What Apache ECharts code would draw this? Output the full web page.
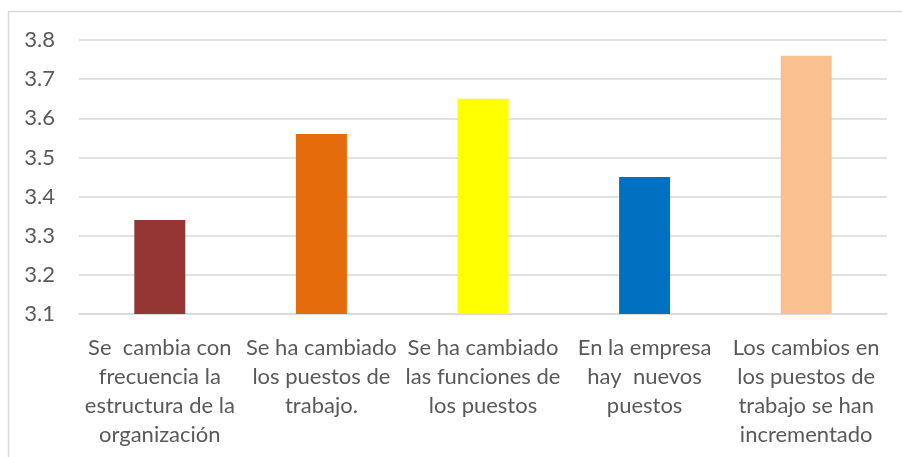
<!DOCTYPE html>
<html>
<head>
<meta charset="utf-8">
<script src="https://cdn.jsdelivr.net/npm/echarts@6/dist/echarts.min.js"></script>
<style>
  html, body { margin: 0; padding: 0; background: #ffffff; }
  #chart { width: 902px; height: 457px; }
</style>
</head>
<body>
<div id="chart"></div>
<script>
// Category labels (line breaks as set in the chart)
const categories = [
  'Se  cambia con\nfrecuencia la\nestructura de la\norganización',
  'Se ha cambiado\nlos puestos de\ntrabajo.',
  'Se ha cambiado\nlas funciones de\nlos puestos',
  'En la empresa\nhay  nuevos\npuestos',
  'Los cambios en\nlos puestos de\ntrabajo se han\nincrementado'
];
// Mean score per statement
const values = [3.34, 3.56, 3.65, 3.45, 3.76];
// Bar fill per statement
const barColors = ['#943634', '#E46C0A', '#FFFF00', '#0070C0', '#FAC090'];

const FONT = 'Lato';
const chart = echarts.init(document.getElementById('chart'), null, { renderer: 'canvas' });

chart.setOption({
  animation: false,
  backgroundColor: '#ffffff',
  textStyle: { fontFamily: FONT },
  grid: { left: 79, right: 15, top: 40, bottom: 143, containLabel: false },
  graphic: [
    { type: 'line', shape: { x1: 8.5, y1: 11, x2: 8.5, y2: 457 }, style: { stroke: '#d9d9d9', lineWidth: 1.5 } },
    { type: 'line', shape: { x1: 8, y1: 11.5, x2: 902, y2: 11.5 }, style: { stroke: '#d9d9d9', lineWidth: 1.5 } }
  ],
  xAxis: {
    type: 'category',
    data: categories,
    axisLine: { show: true, lineStyle: { color: '#d9d9d9', width: 1.5 } },
    axisTick: { show: false },
    axisLabel: {
      interval: 0,
      color: '#595959',
      fontFamily: FONT,
      fontSize: 22,
      lineHeight: 29,
      margin: 19,
      align: 'center'
    }
  },
  yAxis: {
    type: 'value',
    min: 3.1,
    max: 3.8,
    interval: 0.1,
    axisLine: { show: false },
    axisTick: { show: false },
    splitLine: { lineStyle: { color: '#d9d9d9', width: 1.5 } },
    axisLabel: {
      color: '#595959',
      fontFamily: FONT,
      fontSize: 22,
      margin: 24,
      formatter: v => v.toFixed(1)
    }
  },
  series: [{
    type: 'bar',
    data: values.map((v, i) => ({ value: v, itemStyle: { color: barColors[i] } })),
    barWidth: 51
  }]
});
</script>
</body>
</html>
